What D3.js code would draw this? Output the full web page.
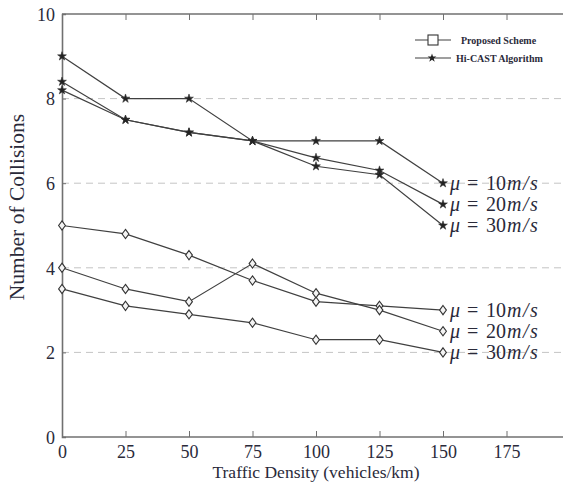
<!DOCTYPE html>
<html>
<head>
<meta charset="utf-8">
<script src="https://cdn.jsdelivr.net/npm/d3@7"></script>
<style>
  html, body { margin: 0; padding: 0; background: #fff; }
  svg { display: block; }
  text { font-family: "Liberation Serif", "DejaVu Serif", serif; fill: #2a2a3a; }
</style>
</head>
<body>
<svg id="chart" width="563" height="486"></svg>
<script>
// ---- data ----
const densities = [0, 25, 50, 75, 100, 125, 150];
const xTickValues = [0, 25, 50, 75, 100, 125, 150, 175];
const yTickValues = [0, 2, 4, 6, 8, 10];
const gridValues = [2, 4, 6, 8];

const hicast10 = [9.0, 8.0, 8.0, 7.0, 7.0, 7.0, 6.0];
const hicast20 = [8.4, 7.5, 7.2, 7.0, 6.6, 6.3, 5.5];
const hicast30 = [8.2, 7.5, 7.2, 7.0, 6.4, 6.2, 5.0];

const proposed10 = [5.0, 4.8, 4.3, 3.7, 3.2, 3.1, 3.0];
const proposed20 = [4.0, 3.5, 3.2, 4.1, 3.4, 3.0, 2.5];
const proposed30 = [3.5, 3.1, 2.9, 2.7, 2.3, 2.3, 2.0];

const speedLabels = ["10", "20", "30"];
const legendLabels = ["Proposed Scheme", "Hi-CAST Algorithm"];
const xTitle = "Traffic Density (vehicles/km)";
const yTitle = "Number of Collisions";

// ---- layout ----
const svg = d3.select("#chart");
const mLeft = 62, mTop = 14, mBottom = 437;
const x = d3.scaleLinear().domain([0, 200]).range([mLeft, mLeft + 508]);
const y = d3.scaleLinear().domain([0, 10]).range([mBottom, mTop]);
const lineColor = "#404040";

// grid
svg.append("g").selectAll("line").data(gridValues).join("line")
  .attr("x1", mLeft).attr("x2", 563)
  .attr("y1", d => y(d)).attr("y2", d => y(d))
  .attr("stroke", "#c4c4c4").attr("stroke-width", 1)
  .attr("stroke-dasharray", "7,5");

// axes
const axisColor = "#707070";
const bottomAxis = svg.append("g").attr("transform", `translate(0,${mBottom})`)
  .call(d3.axisBottom(x).tickValues(xTickValues).tickSize(-6).tickPadding(8).tickFormat(d3.format("d")));
const topAxis = svg.append("g").attr("transform", `translate(0,${mTop})`)
  .call(d3.axisTop(x).tickValues(xTickValues).tickSize(-6).tickFormat(""));
const leftAxis = svg.append("g").attr("transform", `translate(${mLeft},0)`)
  .call(d3.axisLeft(y).tickValues(yTickValues).tickSize(-4).tickPadding(7).tickFormat(d3.format("d")));
[bottomAxis, topAxis, leftAxis].forEach(g => {
  g.select(".domain").attr("stroke", axisColor).attr("stroke-width", 1.6);
  g.selectAll(".tick line").attr("stroke", axisColor).attr("stroke-width", 1);
  g.selectAll("text").attr("font-size", 18).attr("font-family", "Liberation Serif, serif").attr("fill", "#2a2a3a");
});
bottomAxis.select(".domain").attr("d", `M${mLeft},0H600`);
topAxis.select(".domain").attr("d", `M${mLeft},0H600`);
leftAxis.selectAll(".tick text").attr("dy", "0.35em");

// titles
svg.append("text").attr("x", 316).attr("y", 478).attr("text-anchor", "middle")
  .attr("font-size", 17.5).text(xTitle);
svg.append("text").attr("transform", "translate(24,207) rotate(-90)")
  .attr("text-anchor", "middle").attr("font-size", 21.5).text(yTitle);

// series
const line = d3.line().x((d, i) => x(densities[i])).y(d => y(d));
const starPath = d3.symbol().type(d3.symbolStar).size(24)();
const diamondPath = "M0,-4.6L3.4,0L0,4.6L-3.4,0Z";

function drawSeries(values, kind) {
  const g = svg.append("g");
  g.append("path").datum(values).attr("d", line)
    .attr("fill", "none").attr("stroke", lineColor).attr("stroke-width", 1.2);
  g.selectAll("path.m").data(values).join("path").attr("class", "m")
    .attr("transform", (d, i) => `translate(${x(densities[i])},${y(d)})`)
    .attr("d", kind === "star" ? starPath : diamondPath)
    .attr("fill", kind === "star" ? "#222" : "#f4f4f4")
    .attr("stroke", "#333").attr("stroke-width", kind === "star" ? 0.6 : 1.1);
}
[hicast10, hicast20, hicast30].forEach(s => drawSeries(s, "star"));
[proposed10, proposed20, proposed30].forEach(s => drawSeries(s, "diamond"));

// end labels (math style: italic μ, m, s)
function endLabel(values, speed) {
  const last = values[values.length - 1];
  const x0 = x(densities[densities.length - 1]) + 7;
  const t = svg.append("text").attr("y", y(last) + 6.5).attr("font-size", 20);
  t.append("tspan").attr("x", x0).attr("font-style", "italic").text("μ");
  t.append("tspan").attr("x", x0 + 17).text("=");
  t.append("tspan").attr("x", x0 + 36).text(speed);
  t.append("tspan").attr("x", x0 + 57).attr("font-style", "italic").text("m");
  t.append("tspan").attr("x", x0 + 73).attr("font-style", "italic").text("/");
  t.append("tspan").attr("x", x0 + 80).attr("font-style", "italic").text("s");
}
[hicast10, hicast20, hicast30].forEach((s, i) => endLabel(s, speedLabels[i]));
[proposed10, proposed20, proposed30].forEach((s, i) => endLabel(s, speedLabels[i]));

// legend
const lg = svg.append("g");
const legendRows = [{ y: 40, kind: "square" }, { y: 58, kind: "star" }];
legendRows.forEach((r, i) => {
  lg.append("line").attr("x1", 415).attr("x2", 451).attr("y1", r.y).attr("y2", r.y)
    .attr("stroke", lineColor).attr("stroke-width", 1.1);
  if (r.kind === "square") {
    lg.append("rect").attr("x", 428).attr("y", r.y - 5).attr("width", 10).attr("height", 10)
      .attr("fill", "#fff").attr("stroke", "#333").attr("stroke-width", 1.1);
  } else {
    lg.append("path").attr("transform", `translate(432,${r.y})`).attr("d", starPath)
      .attr("fill", "#222");
  }
  lg.append("text").attr("x", i === 0 ? 461 : 456).attr("y", r.y + 3.5)
    .attr("font-size", 10).attr("font-weight", "bold").attr("fill", "#555")
    .text(legendLabels[i]);
});
</script>
</body>
</html>
